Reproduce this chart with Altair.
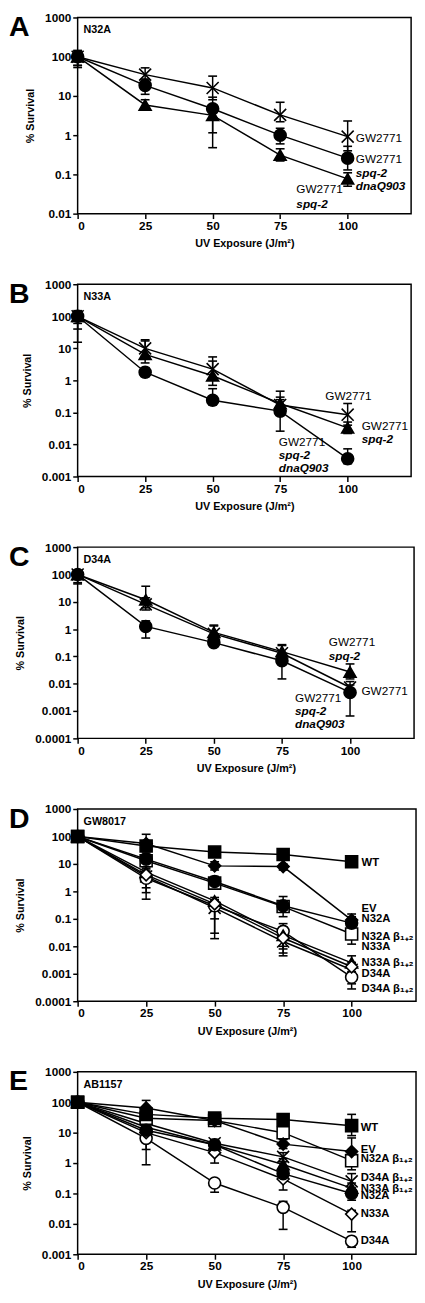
import altair as alt
import pandas as pd

FONT = "Liberation Sans"
X = [0, 25, 50, 75, 100]

# ---------------- Panel A : N32A ----------------
A_series = ["GW2771", "GW2771 spq-2 dnaQ903", "GW2771 spq-2"]
A_marker = ["x", "fcircle", "ftriangle"]
A_y = [[100, 35, 16, 3.3, 0.92], [100, 18.6, 4.7, 1.0, 0.26], [100, 5.9, 3.2, 0.31, 0.077]]
A_hi = [[145, 52, 32, 6.9, 2.3], [140, 27, 9.3, 1.5, 0.52], [130, 8, 5, 0.45, 0.11]]
A_lo = [[53, 22, 8, 2.2, 0.4], [60, 11, 1.15, 0.6, 0.13], [60, 4.5, 0.48, 0.22, 0.05]]
A_lab_text = ["GW2771", "GW2771", "spq-2", "dnaQ903", "GW2771", "spq-2"]
A_lab_x = [103, 103, 103, 103, 81, 81]
A_lab_y = [0.85, 0.25, 0.11, 0.05, 0.043, 0.018]
A_lab_style = ["n", "n", "bi", "bi", "n", "bi"]

# ---------------- Panel B : N33A ----------------
B_series = ["GW2771", "GW2771 spq-2", "GW2771 spq-2 dnaQ903"]
B_marker = ["x", "ftriangle", "fcircle"]
B_y = [[100, 10, 2.25, 0.17, 0.085], [100, 6.5, 1.4, 0.19, 0.033], [100, 1.8, 0.24, 0.11, 0.0036]]
B_hi = [[150, 18.5, 5.4, 0.46, 0.19], [140, 17, 4, 0.3, 0.05], [130, 2.5, 0.55, 0.25, 0.0073]]
B_lo = [[40, 6, 1.2, 0.08, 0.04], [15.5, 3.5, 0.7, 0.1, 0.022], [60, 1.3, 0.17, 0.026, 0.0025]]
B_lab_text = ["GW2771", "GW2771", "spq-2", "GW2771", "spq-2", "dnaQ903"]
B_lab_x = [91.7, 105.2, 105.2, 74.5, 74.5, 74.5]
B_lab_y = [0.32, 0.037, 0.0145, 0.0115, 0.0046, 0.0018]
B_lab_style = ["n", "n", "bi", "n", "bi", "bi"]

# ---------------- Panel C : D34A ----------------
C_series = ["GW2771", "GW2771 spq-2", "GW2771 spq-2 dnaQ903"]
C_marker = ["x", "ftriangle", "fcircle"]
C_y = [[100, 8, 0.67, 0.13, 0.0073], [100, 11.8, 0.76, 0.15, 0.027], [100, 1.25, 0.32, 0.069, 0.0048]]
C_hi = [[130, 14, 1.3, 0.27, 0.012], [130, 37, 1.4, 0.25, 0.053], [120, 2, 0.45, 0.12, 0.009]]
C_lo = [[50, 5, 0.4, 0.07, 0.004], [45, 6, 0.5, 0.1, 0.015], [70, 0.47, 0.25, 0.015, 0.00066]]
C_lab_text = ["GW2771", "spq-2", "GW2771", "GW2771", "spq-2", "dnaQ903"]
C_lab_x = [92.2, 92.2, 104.2, 79.8, 79.8, 79.8]
C_lab_y = [0.34, 0.107, 0.0056, 0.003, 0.001, 0.00033]
C_lab_style = ["n", "bi", "n", "n", "bi", "bi"]

# ---------------- Panel D : GW8017 ----------------
DE_series = ["WT", "EV", "N32A", "N32A β1+2", "N33A", "N33A β1+2", "D34A", "D34A β1+2"]
DE_marker = ["fsquare", "fdiamond", "fcircle", "osquare", "odiamond", "ftriangle", "ocircle", "x"]
D_y = [[100, 45, 27, 22, 12], [100, 55, 8.5, 8, 0.09], [100, 15, 2.3, 0.3, 0.07],
       [100, 13, 2.0, 0.28, 0.028], [100, 4, 0.35, 0.02, 0.0018], [100, 5, 0.45, 0.025, 0.0025],
       [100, 3, 0.3, 0.035, 0.00075], [100, 3.5, 0.25, 0.015, 0.0014]]
D_hi = [[140, 70, 35, 28, 15], [130, 120, 12, 10, 0.15], [130, 25, 3.5, 0.65, 0.12],
        [130, 18, 2.8, 0.4, 0.06], [130, 6, 0.5, 0.03, 0.0026], [130, 7, 0.6, 0.067, 0.0045],
        [130, 4, 0.45, 0.05, 0.0011], [130, 5, 0.4, 0.022, 0.002]]
D_lo = [[70, 30, 20, 16, 9], [70, 30, 6, 6, 0.05], [70, 8, 1.5, 0.12, 0.04],
        [70, 9, 1.3, 0.18, 0.012], [70, 1.35, 0.03, 0.0057, 0.0012], [70, 2.5, 0.2, 0.01, 0.0018],
        [70, 0.52, 0.019, 0.0045, 0.00028], [70, 0.9, 0.1, 0.008, 0.00043]]
D_lab_text = ["WT", "EV", "N32A", "N32A β₁₊₂", "N33A", "N33A β₁₊₂", "D34A", "D34A β₁₊₂"]
D_lab_x = [103.6] * 8
D_lab_y = [10.5, 0.23, 0.1, 0.022, 0.0095, 0.0025, 0.001, 0.00027]
D_lab_style = ["b"] * 8

# ---------------- Panel E : AB1157 ----------------
E_y = [[100, 40, 30, 27, 17], [100, 65, 25, 4.2, 2.4], [100, 12, 4, 0.45, 0.1],
       [100, 30, 25, 10, 1.2], [100, 10, 2.2, 0.3, 0.021], [100, 15, 4, 0.9, 0.15],
       [100, 6.5, 0.22, 0.035, 0.0027], [100, 20, 4.5, 1.6, 0.25]]
E_hi = [[130, 55, 40, 40, 40], [130, 115, 32, 6, 6.7], [130, 18, 5.5, 0.6, 0.15],
        [130, 40, 32, 14, 1.7], [130, 14, 3, 0.45, 0.028], [130, 22, 5.5, 1.4, 0.22],
        [130, 9, 0.3, 0.055, 0.0035], [130, 28, 6, 2.2, 0.45]]
E_lo = [[75, 28, 22, 18, 8], [75, 40, 18, 3, 1.2], [75, 8, 2.8, 0.3, 0.06],
        [75, 22, 18, 6, 0.6], [75, 2.8, 1.0, 0.13, 0.0055], [75, 10, 2.8, 0.6, 0.09],
        [75, 0.88, 0.11, 0.0066, 0.0017], [75, 14, 3, 1.1, 0.15]]
E_lab_text = ["WT", "EV", "N32A β₁₊₂", "D34A β₁₊₂", "N33A β₁₊₂", "N32A", "N33A", "D34A"]
E_lab_x = [103.3] * 8
E_lab_y = [14, 2.7, 1.4, 0.32, 0.145, 0.082, 0.021, 0.0027]
E_lab_style = ["b"] * 8

X_PATH = "M-1,-1L1,1M-1,1L1,-1"
MARKERS = {
    "x": (X_PATH, "transparent"),
    "fcircle": ("circle", "black"),
    "ocircle": ("circle", "white"),
    "fsquare": ("square", "black"),
    "osquare": ("square", "white"),
    "fdiamond": ("diamond", "black"),
    "odiamond": ("diamond", "white"),
    "ftriangle": ("triangle-up", "black"),
}
LABEL_STYLE = {
    "n": dict(fontWeight="normal", fontStyle="normal"),
    "bi": dict(fontWeight="bold", fontStyle="italic"),
    "b": dict(fontWeight="bold", fontStyle="normal"),
}
XMAX = 123.5


def panel(letter, strain, series, markers, ys, his, los, ymin, width, height,
          lab_text, lab_x, lab_y, lab_style, lab_size=12, first_on_top=False):
    rows = []
    for si, name in enumerate(series):
        for xi, xv in enumerate(X):
            rows.append({"series": name, "order": si, "x": xv, "y": ys[si][xi],
                         "lo": los[si][xi], "hi": his[si][xi]})
    df = pd.DataFrame(rows)
    df_pts = df.sort_values("order", ascending=not first_on_top, kind="stable")
    labs = pd.DataFrame({"text": lab_text, "x": lab_x, "y": lab_y, "style": lab_style})

    decades = []
    v = 1000.0
    while v >= ymin * 0.999:
        decades.append(v)
        v /= 10.0
    xs = alt.Scale(domain=[0, XMAX], nice=False, zero=False)
    ysc = alt.Scale(type="log", domain=[ymin, 1000], nice=False)
    xaxis = alt.Axis(values=X, title="UV Exposure (J/m²)")
    yaxis = alt.Axis(values=decades, format="~g", title="% Survival")

    def xe(f="x"):
        return alt.X(f, type="quantitative", scale=xs, axis=xaxis, title="UV Exposure (J/m²)")

    def ye(f="y"):
        return alt.Y(f, type="quantitative", scale=ysc, axis=yaxis, title="% Survival")

    base = alt.Chart(df)
    lines = base.mark_line(color="black", strokeWidth=1.5).encode(
        x=xe(), y=ye(), detail="series:N")
    rules = base.mark_rule(color="black", strokeWidth=1.5).encode(
        x=xe(), y=ye("lo"), y2=alt.Y2("hi"))
    cap_lo = base.mark_tick(orient="horizontal", color="black", size=9, thickness=1.6,
                            opacity=1).encode(x=xe(), y=ye("lo"))
    cap_hi = base.mark_tick(orient="horizontal", color="black", size=9, thickness=1.6,
                            opacity=1).encode(x=xe(), y=ye("hi"))
    shapes = [MARKERS[m][0] for m in markers]
    fills = [MARKERS[m][1] for m in markers]
    pts = alt.Chart(df_pts).mark_point(filled=True, size=150, stroke="black", strokeWidth=1.6,
                                       opacity=1).encode(
        x=xe(), y=ye(),
        shape=alt.Shape("series:N", scale=alt.Scale(domain=series, range=shapes), legend=None),
        fill=alt.Fill("series:N", scale=alt.Scale(domain=series, range=fills), legend=None),
    )
    layers = [lines, rules, cap_lo, cap_hi, pts]
    for st, props in LABEL_STYLE.items():
        sub = labs[labs["style"] == st]
        if len(sub) == 0:
            continue
        layers.append(alt.Chart(sub).mark_text(
            align="left", baseline="middle", font=FONT, fontSize=lab_size, color="black",
            **props).encode(x=xe(), y=ye(), text="text:N"))
    letter_df = pd.DataFrame({"t": [letter]})
    layers.append(alt.Chart(letter_df).mark_text(
        align="left", baseline="top", font=FONT, fontSize=29, fontWeight="bold",
        color="black").encode(x=alt.value(-70), y=alt.value(-4), text="t:N"))
    strain_df = pd.DataFrame({"t": [strain]})
    layers.append(alt.Chart(strain_df).mark_text(
        align="left", baseline="middle", font=FONT, fontSize=11, fontWeight="bold",
        color="black").encode(x=alt.value(6), y=alt.value(13), text="t:N"))
    return alt.layer(*layers).properties(width=width, height=height)


pA = panel("A", "N32A", A_series, A_marker, A_y, A_hi, A_lo, 0.01, 340, 200,
           A_lab_text, A_lab_x, A_lab_y, A_lab_style)
pB = panel("B", "N33A", B_series, B_marker, B_y, B_hi, B_lo, 0.001, 340, 196,
           B_lab_text, B_lab_x, B_lab_y, B_lab_style)
pC = panel("C", "D34A", C_series, C_marker, C_y, C_hi, C_lo, 0.0001, 343, 195,
           C_lab_text, C_lab_x, C_lab_y, C_lab_style)
pD = panel("D", "GW8017", DE_series, DE_marker, D_y, D_hi, D_lo, 0.0001, 345, 196,
           D_lab_text, D_lab_x, D_lab_y, D_lab_style, lab_size=11.5, first_on_top=True)
pE = panel("E", "AB1157", DE_series, DE_marker, E_y, E_hi, E_lo, 0.001, 345, 186,
           E_lab_text, E_lab_x, E_lab_y, E_lab_style, lab_size=11.5, first_on_top=True)

chart = alt.vconcat(pA, pB, pC, pD, pE, spacing=28).resolve_scale(
    x="independent", y="independent", shape="independent", fill="independent"
).properties(
    padding={"left": 0, "top": -10, "right": 0, "bottom": 0},
    background="white",
).configure_view(
    stroke="black", strokeWidth=1.5
).configure_axis(
    grid=False, domain=False, tickColor="black", tickWidth=1.5, tickSize=5,
    labelColor="black", labelFont=FONT, labelFontWeight="bold", labelFontSize=12,
    labelPadding=2, titleFont=FONT, titleFontWeight="bold", titleFontSize=11,
    titleColor="black",
).configure_axisX(titlePadding=7).configure_axisY(titlePadding=9)

chart.save("out.html", embed_options={"renderer": "svg", "actions": False})
